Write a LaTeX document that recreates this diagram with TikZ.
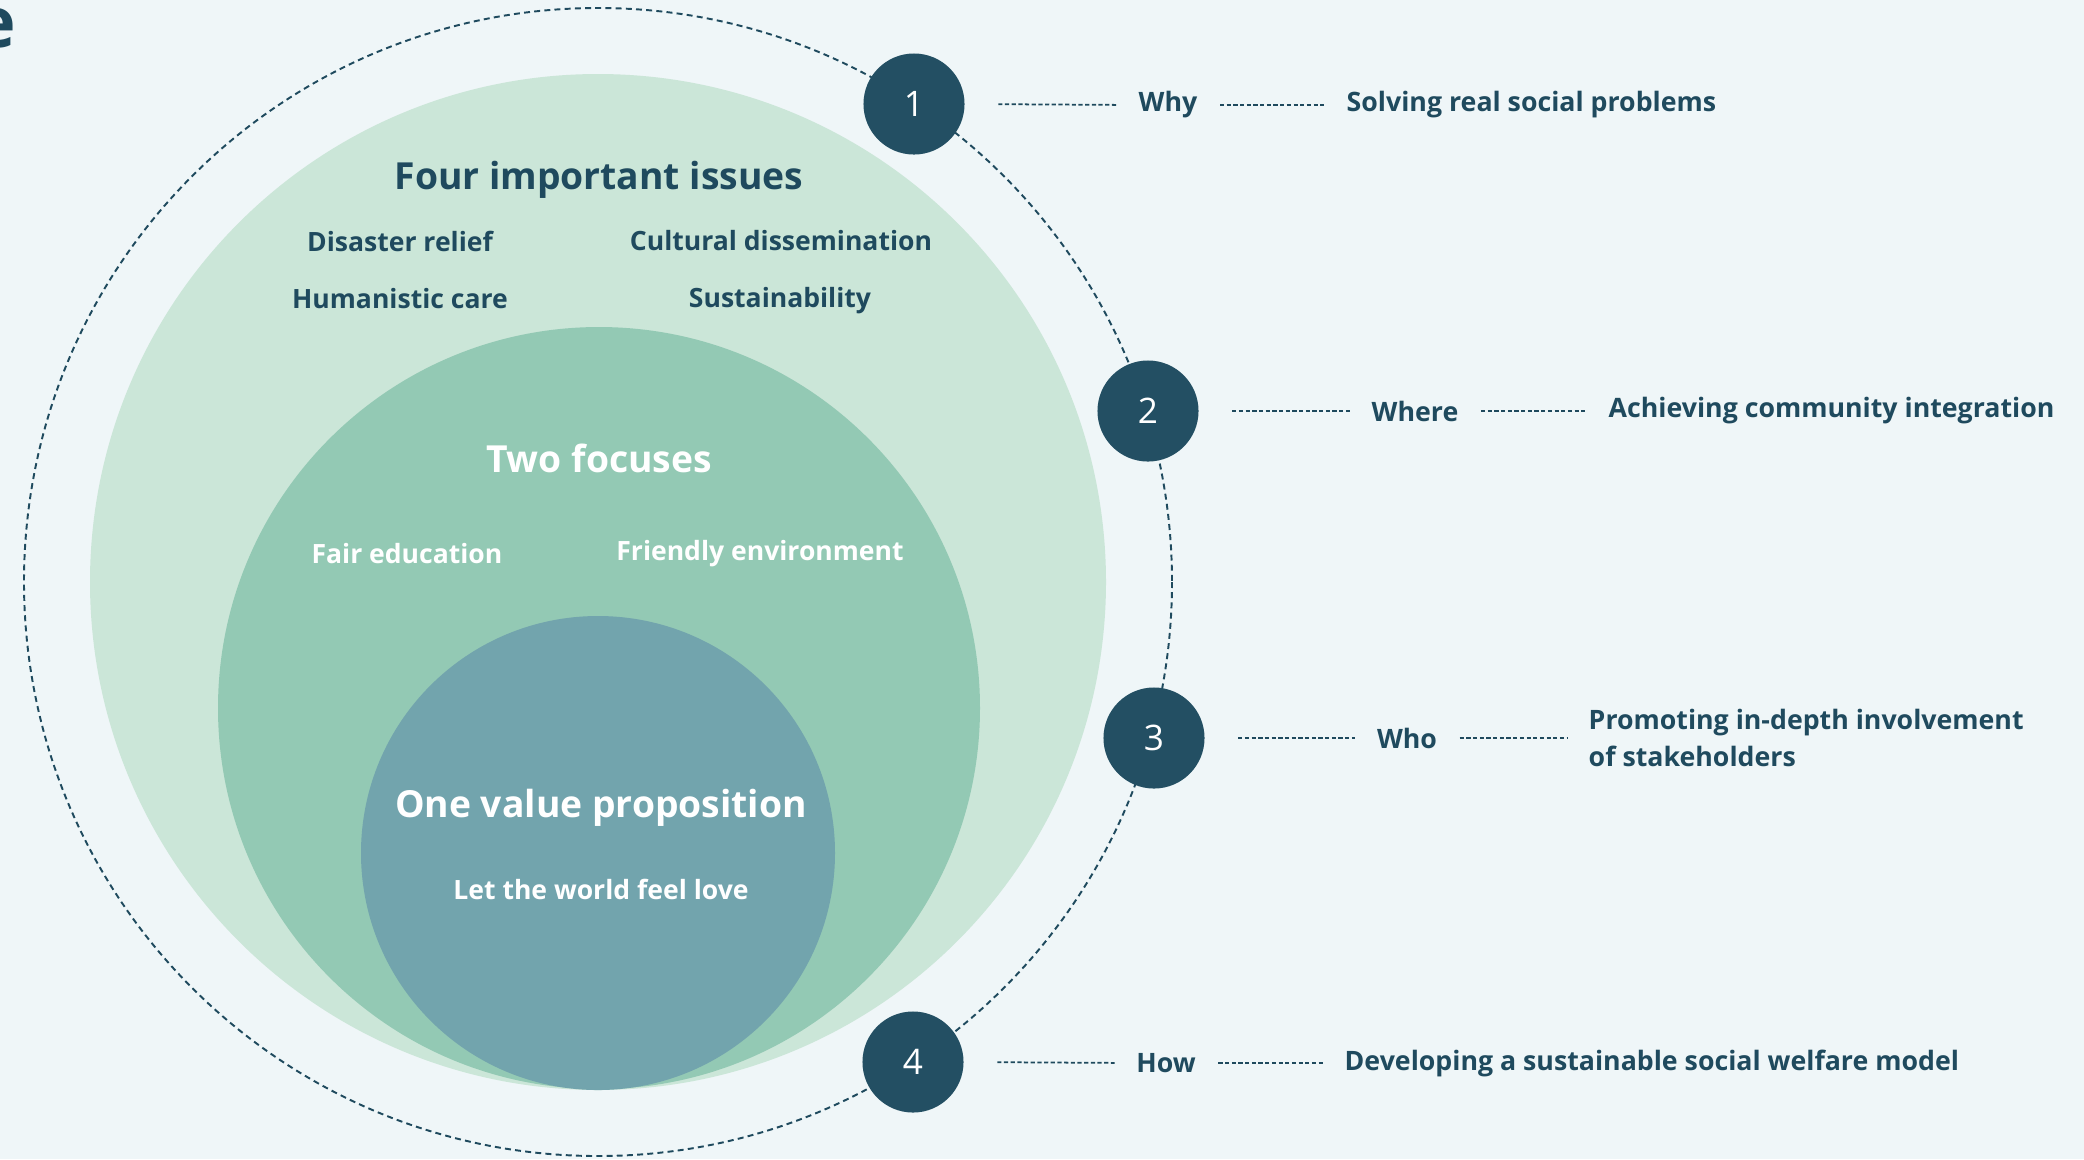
\documentclass[tikz,border=0pt]{standalone}
\usepackage{fontspec}
\setmainfont{Open Sans}
\definecolor{bgc}{HTML}{EFF6F8}
\definecolor{ring1}{HTML}{CBE6D8}
\definecolor{ring2}{HTML}{93C9B4}
\definecolor{ring3}{HTML}{72A4AD}
\definecolor{navy}{HTML}{234F63}
\definecolor{txt}{HTML}{1F4A5E}
\begin{document}
\begin{tikzpicture}[x=0.01cm,y=-0.01cm,
  num/.style={circle,fill=navy,minimum size=1.01cm,inner sep=0pt,text=white,font=\fontsize{10}{12}\selectfont},
  key/.style={inner sep=0pt,text=txt,font=\bfseries\fontsize{7.6}{9}\selectfont},
  desc/.style={inner sep=0pt,text=txt,font=\bfseries\fontsize{7.6}{10.6}\selectfont,anchor=west,align=left},
  ttl/.style={inner sep=0pt,font=\bfseries\fontsize{10.6}{12}\selectfont},
  itm/.style={inner sep=0pt,font=\bfseries\fontsize{7.55}{9}\selectfont},
  link/.style={draw=txt,line width=0.5pt,dash pattern=on 1.2pt off 0.7pt},
  orbit/.style={draw=txt,line width=0.55pt,dash pattern=on 1.7pt off 1.2pt}]
\useasboundingbox (0,0) rectangle (2084,1159);
\clip (0,0) rectangle (2084,1159);
\fill[bgc] (0,0) rectangle (2084,1159);
\node[anchor=base east,inner sep=0pt,text=txt,font=\bfseries\fontsize{20}{24}\selectfont] (head) at (17,47) {e};
% rings
\fill[ring1] (598,582) circle[radius=508];
\fill[ring2] (599,708) circle[radius=381];
\fill[ring3] (598,853) circle[radius=237];
\draw[orbit] (598,582) circle[radius=574];
% ring texts
\node[ttl,text=txt] (four) at (599,180) {Four important issues};
\node[itm,text=txt] (dis) at (400,241) {Disaster relief};
\node[itm,text=txt] (cul) at (781,241) {Cultural dissemination};
\node[itm,text=txt] (hum) at (400,299) {Humanistic care};
\node[itm,text=txt] (sus) at (780,301) {Sustainability};
\node[ttl,text=white] (two) at (599,458) {Two focuses};
\node[itm,text=white] (fair) at (407,554) {Fair education};
\node[itm,text=white] (env) at (760,554) {Friendly environment};
\node[ttl,text=white] (one) at (601,808) {One value proposition};
\node[itm,text=white] (love) at (601,889) {Let the world feel love};
% numbered points
\node[num] (n1) at (914,104) {1};
\node[num] (n2) at (1148,411) {2};
\node[num] (n3) at (1154,738) {3};
\node[num] (n4) at (913,1062) {4};
% keys
\node[key] (k1) at (1168,105) {Why};
\node[key] (k2) at (1415,411) {Where};
\node[key] (k3) at (1407,738) {Who};
\node[key] (k4) at (1166,1063) {How};
% descriptions
\node[desc] (d1) at (1346,105) {Solving real social problems};
\node[desc] (d2) at (1608,411) {Achieving community integration};
\node[desc] (d3) at (1588,738) {Promoting in-depth involvement\\of stakeholders};
\node[desc] (d4) at (1344,1063) {Developing a sustainable social welfare model};
% links
\foreach \i in {1,2,3,4}{
  \draw[link,shorten <=0.33cm,shorten >=0.21cm] (n\i.east) -- (k\i.west);
  \draw[link,shorten <=0.22cm,shorten >=0.21cm] (k\i.east) -- (d\i.west);
}
\end{tikzpicture}
\end{document}
